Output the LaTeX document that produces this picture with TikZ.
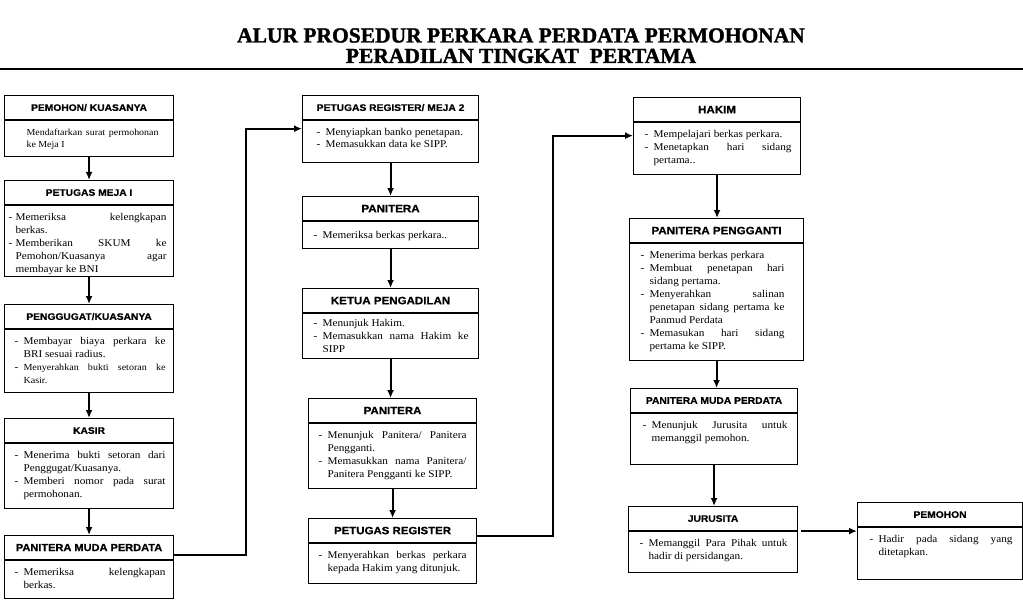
\documentclass[tikz,border=0pt]{standalone}
\usepackage{fontspec}
\setmainfont{Liberation Serif}[FakeStretch=1.08]
\newfontfamily\headfont{Liberation Sans}[FakeStretch=1.08, BoldFeatures={FakeBold=0.8}]
\newfontfamily\titlefont{Liberation Serif}[BoldFeatures={FakeBold=1.5}]
\usetikzlibrary{arrows.meta}

\hyphenpenalty=10000
\exhyphenpenalty=10000
\tolerance=10000
\hbadness=10000

\newlength{\gantung}
\setlength{\gantung}{9pt}

% box body: [top space]{width}{height}{text}
\newcommand{\isi}[4][8pt]{\parbox[c][#3][t]{#2}{\vspace*{#1}\leftskip=10pt\rightskip=10pt\relax #4\par}}
\newcommand{\butir}{\par\noindent\hangindent=\gantung\hangafter=1\makebox[\gantung][l]{-}}

\tikzset{
	head/.style = {draw, line width = 1.1pt, anchor = north west, inner sep = 0pt,
		minimum height = 24pt, font = \headfont\bfseries\fontsize{#1}{#1}\selectfont},
	head/.default = 9.5,
	body/.style = {draw, line width = 1.1pt, anchor = north west, inner sep = 0pt,
		font = \fontsize{10.4}{13}\selectfont},
	arrow/.style = {-{Latex[length = 8pt, width = 7pt]}, line width = 2pt}
}

\begin{document}
\begin{tikzpicture}[x = 1pt, y = -1pt]

	\useasboundingbox (0, 0) rectangle (1023, 607);

	% Title

	\node [anchor = base, font = \titlefont\bfseries\fontsize{21.5}{22}\selectfont] (judulA) at (521, 42.5) {ALUR PROSEDUR PERKARA PERDATA PERMOHONAN};
	\node [anchor = base, font = \titlefont\bfseries\fontsize{21.5}{22}\selectfont] (judulB) at (521, 63) {PERADILAN TINGKAT\ \ PERTAMA};

	\draw [line width = 1.8pt] (0, 69) -- (1023, 69);

	% First column

	\node [head, minimum width = 169pt] (pemohonH) at (4, 95) {PEMOHON/ KUASANYA};
	\node [body] (pemohonB) at (pemohonH.south west) {\isi{169pt}{36pt}{\fontsize{9.2}{12}\selectfont\leftskip=22pt\rightskip=15pt Mendaftarkan surat permohonan ke Meja I}};

	\node [head, minimum width = 169pt] (mejaH) at (4, 180) {PETUGAS MEJA I};
	\node [body] (mejaB) at (mejaH.south west) {\isi{169pt}{71pt}{\gantung=7pt\leftskip=4pt\rightskip=7pt
		\butir Memeriksa kelengkapan\linebreak berkas.
		\butir Memberikan SKUM ke\linebreak Pemohon/Kuasanya agar\linebreak membayar ke BNI}};

	\node [head, minimum width = 169pt] (penggugatH) at (4, 304) {PENGGUGAT/KUASANYA};
	\node [body] (penggugatB) at (penggugatH.south west) {\isi{169pt}{63pt}{\rightskip=8pt
		\butir Membayar biaya perkara ke\linebreak BRI sesuai radius.
		\butir {\fontsize{9.3}{12}\selectfont Menyerahkan bukti setoran ke\linebreak Kasir.}}};

	\node [head, minimum width = 169pt] (kasirH) at (4, 418) {KASIR};
	\node [body] (kasirB) at (kasirH.south west) {\isi{169pt}{65pt}{\rightskip=8pt
		\butir Menerima bukti setoran dari\linebreak Penggugat/Kuasanya.
		\butir Memberi nomor pada surat\linebreak permohonan.}};

	\node [head = 10.2, minimum width = 169pt] (panmudH) at (4, 535) {PANITERA MUDA PERDATA};
	\node [body] (panmudB) at (panmudH.south west) {\isi{169pt}{38pt}{\rightskip=8pt
		\butir Memeriksa kelengkapan\linebreak berkas.}};

	% Second column

	\node [head, minimum width = 176pt] (registerH) at (302, 95) {PETUGAS REGISTER/ MEJA 2};
	\node [body] (registerB) at (registerH.south west) {\isi{176pt}{42pt}{\fontsize{10.4}{11.5}\selectfont\leftskip=14pt
		\butir Menyiapkan banko penetapan.
		\butir Memasukkan data ke SIPP.}};

	\node [head = 10.7, minimum width = 176pt] (paniteraH) at (302, 196) {PANITERA};
	\node [body] (paniteraB) at (paniteraH.south west) {\isi[10pt]{176pt}{27pt}{\leftskip=11pt
		\butir Memeriksa berkas perkara..}};

	\node [head = 10.7, minimum width = 176pt] (ketuaH) at (302, 288) {KETUA PENGADILAN};
	\node [body] (ketuaB) at (ketuaH.south west) {\isi[6pt]{176pt}{45pt}{\leftskip=11pt
		\butir Menunjuk Hakim.
		\butir Memasukkan nama Hakim ke\linebreak SIPP}};

	\node [head = 10.6, minimum width = 168pt] (paniteraduaH) at (308, 398) {PANITERA};
	\node [body] (paniteraduaB) at (paniteraduaH.south west) {\isi{168pt}{65pt}{
		\butir Menunjuk Panitera/ Panitera\linebreak Pengganti.
		\butir Memasukkan nama Panitera/\linebreak Panitera Pengganti ke SIPP.}};

	\node [head = 10.6, minimum width = 168pt] (petregH) at (308, 518) {PETUGAS REGISTER};
	\node [body] (petregB) at (petregH.south west) {\isi{168pt}{40pt}{
		\butir Menyerahkan berkas perkara\linebreak kepada Hakim yang ditunjuk.}};

	% Third column

	\node [head = 10.7, minimum width = 167pt] (hakimH) at (633, 97) {HAKIM};
	\node [body] (hakimB) at (hakimH.south west) {\isi{167pt}{52pt}{\leftskip=11pt\rightskip=9pt
		\butir Mempelajari berkas perkara.
		\butir Menetapkan hari sidang\linebreak pertama..}};

	\node [head = 10.7, minimum width = 174pt] (penggantiH) at (629, 218) {PANITERA PENGGANTI};
	\node [body] (penggantiB) at (penggantiH.south west) {\isi{174pt}{117pt}{\leftskip=11pt\rightskip=19pt
		\butir Menerima berkas perkara
		\butir Membuat penetapan hari\linebreak sidang pertama.
		\butir Menyerahkan salinan\linebreak penetapan sidang pertama ke\linebreak Panmud Perdata
		\butir Memasukan hari sidang\linebreak pertama ke SIPP.}};

	\node [head, minimum width = 167pt] (panmudduaH) at (630, 388) {PANITERA MUDA PERDATA};
	\node [body] (panmudduaB) at (panmudduaH.south west) {\isi{167pt}{51pt}{\leftskip=12pt
		\butir Menunjuk Jurusita untuk\linebreak memanggil pemohon.}};

	\node [head, minimum width = 169pt] (jurusitaH) at (628, 506) {JURUSITA};
	\node [body] (jurusitaB) at (jurusitaH.south west) {\isi{169pt}{41pt}{\leftskip=11pt
		\butir Memanggil Para Pihak\ untuk\linebreak hadir di persidangan.}};

	% Last box

	\node [head, minimum width = 165pt] (pemohonduaH) at (857, 502) {PEMOHON};
	\node [body] (pemohonduaB) at (pemohonduaH.south west) {\isi{165pt}{52pt}{\leftskip=12pt
		\butir Hadir pada sidang yang\linebreak ditetapkan.}};

	% Arrows down the columns

	\foreach \a/\b in {pemohonB/mejaH, mejaB/penggugatH, penggugatB/kasirH, kasirB/panmudH,
		registerB/paniteraH, paniteraB/ketuaH, ketuaB/paniteraduaH, paniteraduaB/petregH,
		hakimB/penggantiH, penggantiB/panmudduaH, panmudduaB/jurusitaH}
		\draw [arrow] (\a.south) -- (\a.south |- \b.north);

	% Arrows between the columns

	\draw [arrow] ([yshift = -7pt]panmudH.east) -- ++(72, 0) |- ([yshift = 13pt]registerB.west);
	\draw [arrow] ([yshift = -5.5pt]petregH.east) -- ++(76, 0) |- ([yshift = 13pt]hakimB.west);
	\draw [arrow] ([xshift = 3pt]jurusitaB.north east) -- (jurusitaB.north east -| pemohonduaB.west);

\end{tikzpicture}
\end{document}
